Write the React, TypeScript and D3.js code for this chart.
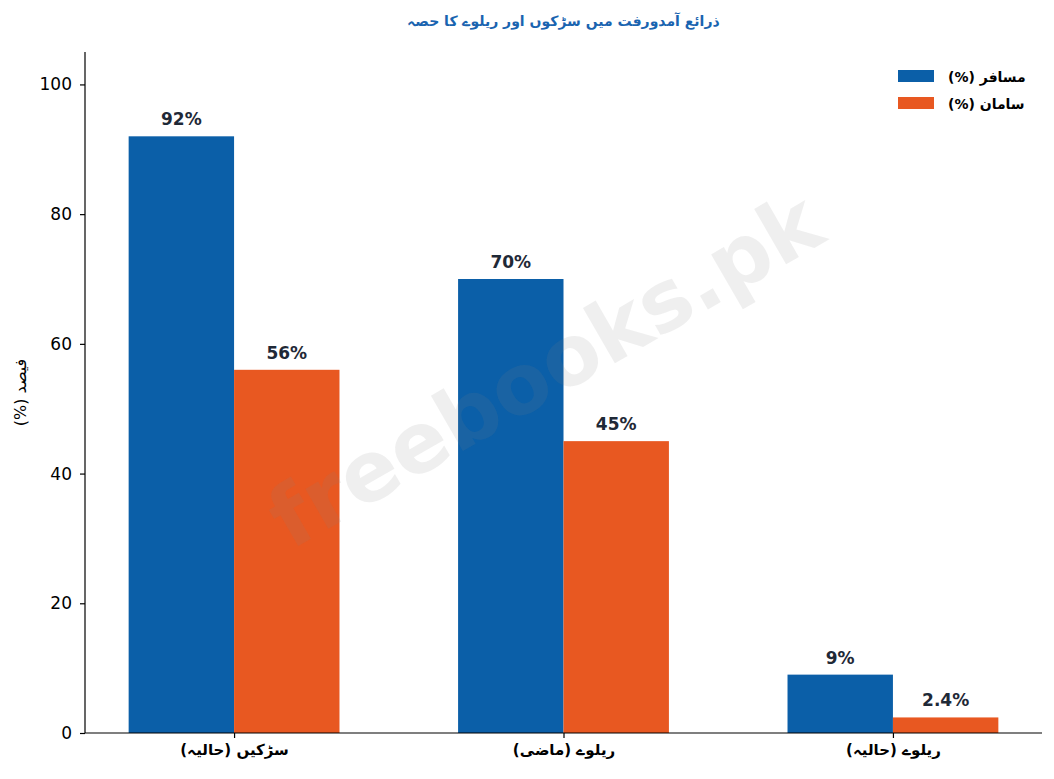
import { useEffect, useRef } from 'react';
import * as d3 from 'd3';

const categories = ['سڑکیں (حالیہ)', 'ریلوے (ماضی)', 'ریلوے (حالیہ)'];
const passengers = [92, 70, 9];
const goods = [56, 45, 2.4];
const passengerLabels = ['92%', '70%', '9%'];
const goodsLabels = ['56%', '45%', '2.4%'];
const seriesNames = ['مسافر (%)', 'سامان (%)'];
const yTicks = [0, 20, 40, 60, 80, 100];

const BLUE = '#0b5fa8';
const ORANGE = '#e85821';
const LABEL = '#1f2937';

export default function App() {
  const svgRef = useRef<SVGSVGElement>(null);

  useEffect(() => {
    if (!svgRef.current) return;
    const svg = d3.select(svgRef.current);
    svg.selectAll('*').remove();

    const width = 1054;
    const height = 779;
    const margin = { top: 52, right: 12, bottom: 46, left: 85 };
    const h = height - margin.top - margin.bottom;

    const x = d3.scaleLinear().domain([-0.4525, 2.4525]).range([margin.left, width - margin.right]);
    const y = d3.scaleLinear().domain([0, 105]).range([height - margin.bottom, margin.top]);
    const barW = 0.32;
    const font = 'DejaVu Sans, sans-serif';

    svg.append('rect').attr('width', width).attr('height', height).attr('fill', '#fff');

    // bars
    const g = svg.append('g');
    categories.forEach((_, i) => {
      g.append('rect')
        .attr('x', x(i - barW)).attr('width', x(barW) - x(0))
        .attr('y', y(passengers[i])).attr('height', y(0) - y(passengers[i]))
        .attr('fill', BLUE);
      g.append('rect')
        .attr('x', x(i)).attr('width', x(barW) - x(0))
        .attr('y', y(goods[i])).attr('height', y(0) - y(goods[i]))
        .attr('fill', ORANGE);
      g.append('text')
        .attr('x', x(i - barW / 2)).attr('y', y(passengers[i]) - 11)
        .attr('text-anchor', 'middle').attr('font-family', font).attr('font-weight', 'bold')
        .attr('font-size', 17).attr('fill', LABEL).text(passengerLabels[i]);
      g.append('text')
        .attr('x', x(i + barW / 2)).attr('y', y(goods[i]) - 11)
        .attr('text-anchor', 'middle').attr('font-family', font).attr('font-weight', 'bold')
        .attr('font-size', 17).attr('fill', LABEL).text(goodsLabels[i]);
    });

    // axes
    const yAxis = svg.append('g').attr('transform', `translate(${margin.left},0)`)
      .call(d3.axisLeft(y).tickValues(yTicks).tickSize(5).tickPadding(8));
    yAxis.selectAll('text').attr('font-family', font).attr('font-size', 17).attr('fill', '#000');
    yAxis.selectAll('.tick line, .domain').attr('stroke', '#000').attr('stroke-width', 1.2);
    yAxis.select('.domain').attr('d', `M0,${y(0)}V${margin.top}`);

    const xAxis = svg.append('g').attr('transform', `translate(0,${y(0)})`)
      .call(d3.axisBottom(x).tickValues([0, 1, 2]).tickFormat((d) => categories[d as number]).tickSize(5).tickPadding(6));
    xAxis.selectAll('text').attr('font-family', font).attr('font-size', 15).attr('font-weight', 'bold')
      .attr('fill', '#000').attr('direction', 'rtl').style('unicode-bidi', 'plaintext');
    xAxis.selectAll('.tick line, .domain').attr('stroke', '#000').attr('stroke-width', 1.2);
    xAxis.select('.domain').attr('d', `M${margin.left},0H${width - margin.right}`);

    // y label
    svg.append('text')
      .attr('transform', `translate(26,${margin.top + h / 2}) rotate(-90)`)
      .attr('text-anchor', 'middle').attr('direction', 'rtl').style('unicode-bidi', 'plaintext')
      .attr('font-family', font).attr('font-size', 16)
      .attr('fill', '#000').text('فیصد (%)');

    // title
    svg.append('text')
      .attr('x', (margin.left + width - margin.right) / 2).attr('y', 26)
      .attr('text-anchor', 'middle').attr('direction', 'rtl').style('unicode-bidi', 'plaintext')
      .attr('font-family', font).attr('font-size', 14)
      .attr('font-weight', 'bold').attr('fill', '#1a64b0')
      .text('ذرائع آمدورفت میں سڑکوں اور ریلوے کا حصہ');

    // legend
    const colors = [BLUE, ORANGE];
    seriesNames.forEach((name, i) => {
      const ly = 76 + i * 27;
      svg.append('rect').attr('x', 898).attr('y', ly - 6).attr('width', 36).attr('height', 12).attr('fill', colors[i]);
      svg.append('text').attr('x', 948).attr('y', ly + 6)
        .attr('text-anchor', 'end').attr('direction', 'rtl').style('unicode-bidi', 'plaintext')
        .attr('font-family', font).attr('font-size', 14)
        .attr('font-weight', 'bold').attr('fill', '#000').text(name);
    });

    // watermark
    svg.append('text')
      .attr('transform', `translate(545,370) rotate(-30)`)
      .attr('text-anchor', 'middle').attr('dominant-baseline', 'central')
      .attr('font-family', font).attr('font-weight', 'bold').attr('font-size', 84)
      .attr('fill', '#808080').attr('fill-opacity', 0.13).text('freebooks.pk');
  }, []);

  return (
    <div style={{ margin: -8 }}>
      <svg ref={svgRef} width={1054} height={779} style={{ display: 'block' }} />
    </div>
  );
}
